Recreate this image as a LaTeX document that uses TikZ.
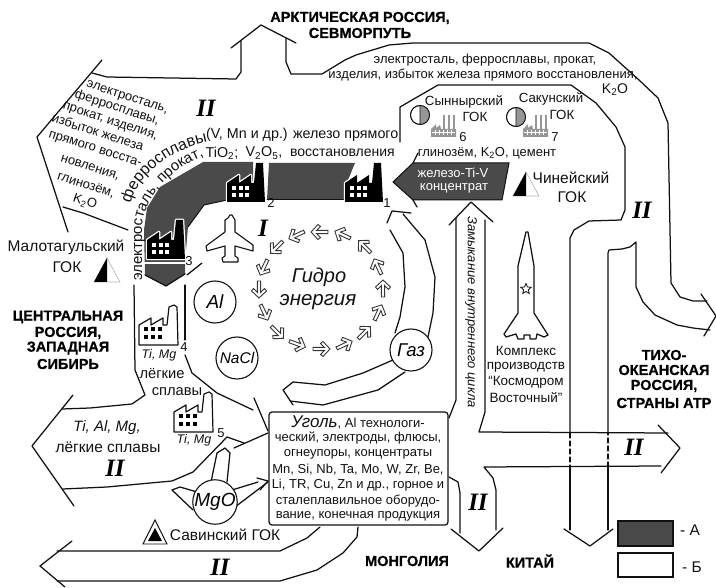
\documentclass[tikz,border=0pt]{standalone}
\usepackage{fontspec}
\setmainfont{Liberation Sans}[BoldFeatures={FakeBold=0.6}]
\newfontfamily\serifnum{Liberation Serif}
\usetikzlibrary{decorations.text,shapes.geometric}
\newcommand{\fsz}[1]{\fontsize{#1}{#1}\selectfont}
\definecolor{darkfill}{HTML}{4A4A4A}
\definecolor{ink}{HTML}{111111}
\definecolor{gfac}{HTML}{969696}
\tikzset{
  x=1pt,y=-1pt,
  edge/.style={draw=ink,line width=1.25pt,line join=round,line cap=round},
  lab/.style={inner sep=0pt,outer sep=0pt,text=ink,font=\fsz{13}},
  labbig/.style={lab,font=\fsz{13.3}},
  labwide/.style={lab,font=\fsz{15.5}},
  labit/.style={lab,font=\fsz{13}\itshape},
  head/.style={inner sep=0pt,text=black,font=\fsz{14.5}\bfseries},
  roman/.style={inner sep=0pt,text=black,font=\fsz{25}\serifnum\bfseries\itshape},
  num/.style={lab,font=\fsz{13}},
  disc/.style={circle,draw=ink,line width=1.1pt,fill=white,minimum size=42pt,inner sep=0pt},
  bfac/.pic={
    \path[fill=black,draw=white,line width=2.5pt,line join=round] (0,39)--(0,20)--(12,12)--(12,20)--(24,12)--(24,20)--(27,20)--(29,0)--(36,0)--(38,39)--cycle;
    \fill[black] (0,39)--(0,20)--(12,12)--(12,20)--(24,12)--(24,20)--(27,20)--(29,0)--(36,0)--(38,39)--cycle;
    \foreach \px in {5,11.5,18}{\foreach \py in {23,30}{\fill[white] (\px,\py) rectangle ++(4,4);}}
  },
  wfac/.pic={
    \path[fill=white,draw=ink,line width=1.2pt,line join=round] (0,40)--(0,20)--(12,13)--(12,20)--(24,13)--(24,20)--(28,20)--(30,2)--(35,0)--(38,2)--(39,40)--cycle;
    \foreach \px in {5,12,19}{\foreach \py in {22,30}{\fill[black] (\px,\py) rectangle ++(3.5,4.5);}}
  },
  gcfac/.pic={
    \fill[gfac] (0,14)--(5,9)--(5,13)--(9,10)--(10,14)--(25,14)--(25,22)--(0,22)--cycle;
    \foreach \px in {12,17,22}{\fill[gfac] (\px,0) rectangle ++(1.6,14);}
    \draw[white,line width=0.7pt] (1,17.5)--(24,17.5);
    \foreach \px in {4,8,12,16,20}{\draw[white,line width=0.7pt] (\px,15)--(\px,20);}
  },
  semi/.pic={
    \path[draw=ink,line width=0.8pt,fill=white] (0,0) circle[radius=9.5];
    \path[fill=gfac] (0,-9.5) arc[start angle=-90,end angle=90,radius=9.5]--cycle;
    \draw[ink,line width=0.8pt] (0,0) circle[radius=9.5] (0,-9.5)--(0,9.5);
  },
  halftri/.pic={
    \path[draw=gray!60,line width=0.6pt,fill=white] (-13,12)--(0,-12)--(13,12)--cycle;
    \fill[black] (-13,12)--(0,-12)--(0,12)--cycle;
  },
  hyd/.pic={
    \path[draw=ink!85,line width=0.9pt,fill=white,line join=miter] (9,0)--(2,7.5)--(-0.5,5.5)--(3.5,1.6)--(-8,1.6)--(-8,-1.6)--(3.5,-1.6)--(-0.5,-5.5)--(2,-7.5)--cycle;
  }
}
\begin{document}
\begin{tikzpicture}
\useasboundingbox (0,0) rectangle (716,588);
% dark bands
\fill[darkfill] (203,162)--(253,162)--(253,200)--(227,200)--(204,205)--(188,227)--(185,262)--(185,274)--(166,286)--(145,275)--(144,230)--(147,208)--(160,187)--cycle;
\fill[darkfill] (269,163)--(355,163)--(348,180)--(345,200)--(267,200)--cycle;
\draw[edge,line width=1pt] (227,200)--(204,205)--(188,227);
\draw[edge,line width=1pt] (267,200)--(345,200);
\draw[edge,white,line width=2pt] (144,263)--(186,263);
\pic at (147,220) {bfac};
\pic at (227,163) {bfac};
\pic at (345,163) {bfac};
\draw[edge] (202,263)--(187,275);
\draw[edge] (145,275)--(166,286)--(185,274);
% concentrate arrow
\path[fill=darkfill,draw=ink,line width=1pt] (509,163)--(413,163)--(393,182)--(413,200)--(502,200)--cycle;
\draw[edge] (418,153)--(413,163);
\draw[edge] (413,200)--(417,207);
% upper-left II arrow
\draw[edge] (102,60)--(37,137)--(68,232);
\draw[edge] (92,73)--(107,77)--(236,79)--(241,72)--(241,41);
\draw[edge] (231,48)--(261,25)--(296,43);
\draw[edge] (286,38)--(286,62)--(291,74)--(322,74)--(345,60)--(356,55)--(389,45)--(413,43)--(589,43)--(609,53)--(639,80)--(658,98)--(668,123)--(671,283)--(680,297)--(693,301)--(707,301);
\draw[edge] (701,294)--(716,316)--(704,336);
\draw[edge] (400,142)--(400,107)--(438,85)--(571,85)--(596,103)--(616,127)--(625,147)--(625,210)--(621,220)--(589,221)--(574,230)--(570,238)--(570,433);
\draw[edge,dashed,dash pattern=on 5pt off 3pt] (570,433)--(570,467);
\draw[edge] (570,467)--(570,530);
\draw[edge] (608,530)--(608,467);
\draw[edge,dashed,dash pattern=on 5pt off 3pt] (608,467)--(608,433);
\draw[edge] (608,433)--(608,253)--(609,250)--(622,249)--(630,247)--(636,242)--(636,287)--(643,302)--(655,315)--(677,325)--(693,328)--(710,330);
\draw[edge] (564,529)--(590,546)--(613,529);
\draw[edge] (63,207)--(83,213)--(128,230);
% II left arrow
\draw[edge] (134,285)--(135,370)--(145,395)--(132,404)--(90,408)--(62,409);
\draw[edge] (73,395)--(32,446)--(74,506);
\draw[edge] (63,489)--(107,487)--(172,481)--(193,472)--(227,437)--(244,443);
\draw[edge] (234,448)--(268,433);
\draw[edge] (185,285)--(185,340);
\draw[edge] (185,355)--(192,373)--(217,393)--(253,410);
\draw[edge] (254,398)--(268,431);
% bottom II arrow
\draw[edge] (320,527)--(307,538)--(280,551)--(57,551);
\draw[edge] (72,541)--(40,566)--(65,587);
\draw[edge] (358,527)--(357,537)--(343,553)--(317,570)--(280,581)--(57,581);
% closing arrow
\draw[edge] (449,225)--(471,202)--(493,222);
\draw[edge] (456,218)--(456,400)--(449,418);
\draw[edge] (485,220)--(485,412)--(479,432)--(668,433);
\draw[edge] (658,425)--(680,448)--(661,473);
\draw[edge] (661,466)--(484,467)--(493,478)--(496,490)--(496,530);
\draw[edge] (451,529)--(479,551)--(503,528);
\draw[edge] (449,477)--(458,482)--(460,493)--(460,533);
% gas arrow
\draw[edge] (387,223)--(392,211)--(411,213);
\draw[edge] (403,214)--(425,240)--(435,277)--(433,313)--(428,337);
\draw[edge] (390,230)--(403,253)--(405,287)--(400,317)--(395,333);
\draw[edge] (393,360)--(363,373)--(325,385)--(293,382);
\draw[edge] (293,382)--(283,390)--(293,405);
\draw[edge] (405,372)--(378,390)--(323,405)--(290,401);
% MgO arrows
\draw[edge] (211,482)--(217,453);
\draw[edge] (227,482)--(230,453);
\draw[edge] (217,453)--(225,448)--(230,453);
\draw[edge] (232,490)--(258,482);
\draw[edge] (235,507)--(268,482);
\draw[edge] (257,478)--(268,481)--(260,490);
\draw[edge] (197,492)--(180,487)--(172,490)--(193,510);
% rocket
\path[edge,fill=white] (526,232)--(518,266)--(518,313)--(504,334)--(506,337)--(516,334)--(518,339)--(524,339)--(524,335)--(530,335)--(530,339)--(536,339)--(537,334)--(544,337)--(548,335)--(534,313)--(534,266)--(528,232)--cycle;
\node[star,star points=5,star point ratio=2.2,draw=ink,line width=0.8pt,minimum size=11pt,inner sep=0pt] (rstar) at (526,289) {};
% plane
\path[edge,line width=1.1pt,fill=white] (228,218)--(230,215)--(232,215)--(235,220)--(235,232)--(253,245)--(253,251)--(235,246)--(235,256)--(238,258)--(238,262)--(223,262)--(222,258)--(225,256)--(225,246)--(207,251)--(206,246)--(225,232)--(225,220)--cycle;
% discs
\node[disc] (al) at (215,302) {\fsz{19}\itshape Al};
\node[disc] (nacl) at (237,358) {\fsz{15.5}\itshape NaCl};
\node[disc] (mgo) at (215,502) {\fsz{19}\itshape MgO};
\node[disc] (gaz) at (411,350) {\fsz{18.5}\itshape Газ};
% hydro arrows
\foreach \cx/\cy/\a in {297/235/205,320/232/180,343/235/155,365/247/135,378/267/115,383/289/90,378/313/65,364/333/45,344/345/25,321/349/0,297/344/-20,277/332/-45,264/312/-65,259/289/-90,264/267/-115,277/247/-135}{
  \pic[rotate=\a] at (\cx,\cy) {hyd};
}
\node[lab,font=\fsz{20}\itshape] (gid1) at (319,277) {Гидро};
\node[lab,font=\fsz{20.5}\itshape] (gid2) at (318,302) {энергия};
% factories
\pic at (139,305) {wfac};
\pic at (174,392) {wfac};
\pic at (431,115) {gcfac};
\pic at (523,115) {gcfac};
\pic at (420,115) {semi};
\pic at (516,117) {semi};
\pic at (107,270) {halftri};
\pic at (526,184) {halftri};
\path[draw=ink,line width=0.9pt,fill=white] (143,544)--(155,520)--(167,544)--cycle;
\fill[black] (148,541)--(155,528)--(162,541)--cycle;
% coal box
\node[draw=ink,line width=1.2pt,rounded corners=3pt,fill=white,minimum width=179pt,minimum height=113pt,inner sep=0pt] (coal) at (358.5,468.5) {};
\node[lab,font=\fsz{13}] (c1) at (358,422) {{\fsz{17}\itshape Уголь}, Al технологи-};
\node[lab] (c2) at (358,438) {ческий, электроды, флюсы,};
\node[lab] (c3) at (358,454) {огнеупоры, концентраты};
\node[lab] (c4) at (358,470) {Mn, Si, Nb, Ta, Mo, W, Zr, Be,};
\node[lab] (c5) at (358,485) {Li, TR, Cu, Zn и др., горное и};
\node[lab] (c6) at (358,501) {сталеплавильное оборудо-};
\node[lab] (c7) at (358,516) {вание, конечная продукция};
% headings
\node[head] (h1) at (360,18) {АРКТИЧЕСКАЯ РОССИЯ,};
\node[head] (h2) at (360,33) {СЕВМОРПУТЬ};
\node[head] (h3) at (68,317) {ЦЕНТРАЛЬНАЯ};
\node[head] (h4) at (68,333) {РОССИЯ,};
\node[head] (h5) at (68,348) {ЗАПАДНАЯ};
\node[head] (h6) at (68,364) {СИБИРЬ};
\node[head] (h7) at (664,355) {ТИХО-};
\node[head] (h8) at (664,370) {ОКЕАНСКАЯ};
\node[head] (h9) at (664,386) {РОССИЯ,};
\node[head] (h10) at (664,403) {СТРАНЫ АТР};
\node[head] (h11) at (407,561) {МОНГОЛИЯ};
\node[head] (h12) at (530,561) {КИТАЙ};
% roman numerals
\node[roman] (r0) at (263,228) {I};
\node[roman] (r1) at (206,108) {II};
\node[roman] (r2) at (642,210) {II};
\node[roman] (r3) at (115,468) {II};
\node[roman] (r4) at (220,567) {II};
\node[roman] (r5) at (478,502) {II};
\node[roman] (r6) at (634,447) {II};
% top text
\node[lab] (t1) at (485,60) {электросталь, ферросплавы, прокат,};
\node[lab] (t2) at (483,75) {изделия, избыток железа прямого восстановления,};
\node[lab,font=\fsz{14}] (t3) at (615,90) {K\textsubscript{2}O};
% left block
\foreach \nm/\cx/\cy/\tx in {la/127/98/{электросталь,},lb/117/108/{ферросплавы,},lc/110/122/{прокат, изделия,},ld/98/132/{избыток железа},le/95/150/{прямого восста-},lf/90/168/{новления,},lg/86/185/{глинозём,},lh/85/202/{K\textsubscript{2}O}}{
  \node[lab,rotate=-18] (\nm) at (\cx,\cy) {\tx};
}
% curved text
\path[decorate,decoration={text along path,text align={left},text={|\fsz{15}\color{ink}|электросталь, прокат,}}] (142,281)--(142,232) .. controls (140,203) and (168,168) .. (207,155);
\path[decorate,decoration={text along path,text align={left},text={|\fsz{16}\color{ink}|ферросплавы}}] (131,204) .. controls (135,180) and (165,152) .. (204,143);
\node[lab,anchor=west,font=\fsz{14.3}] (m1) at (206,135) {(V, Mn и др.) железо прямого};
\node[lab,font=\fsz{14.3}] (m2) at (222,153) {TiO\textsubscript{2};};
\node[lab,font=\fsz{14.3}] (m3) at (264,153) {V\textsubscript{2}O\textsubscript{5},};
\node[lab,anchor=west,font=\fsz{14}] (m4) at (290,153) {восстановления};
% right labels
\node[labbig] (s1) at (464,102) {Сынныpский};
\node[labbig] (s2) at (475,117) {ГОК};
\node[labbig] (s3) at (551,99) {Сакунский};
\node[labbig] (s4) at (562,115) {ГОК};
\node[num] (n6) at (463,137) {6};
\node[num] (n7) at (555,137) {7};
\node[lab] (s5) at (487,153) {глинозём, K\textsubscript{2}O, цемент};
\node[lab,text=white] (cn1) at (453,173) {железо-Ti-V};
\node[lab,text=white] (cn2) at (454,188) {концентрат};
\node[labwide] (ch1) at (571,178) {Чинейский};
\node[labwide] (ch2) at (572,197) {ГОК};
\node[num] (n1) at (387,203) {1};
\node[num] (n2) at (271,203) {2};
\node[num] (n3) at (189,261) {3};
\node[num] (n4) at (184,347) {4};
\node[num] (n5) at (221,433) {5};
\node[labwide] (ma1) at (66,247) {Малотагульский};
\node[labwide] (ma2) at (67,267) {ГОК};
\node[labit,font=\fsz{12.5}\itshape] (ti1) at (159,355) {Ti, Mg};
\node[lab,font=\fsz{14.7}] (lg1) at (162,374) {лёгкие};
\node[lab,font=\fsz{14.7}] (lg2) at (177,392) {сплавы};
\node[labit,font=\fsz{12.5}\itshape] (ti2) at (194,440) {Ti, Mg};
\node[labit,font=\fsz{15}\itshape] (ta1) at (107,428) {Ti, Al, Mg,};
\node[labwide] (ta2) at (108,447) {лёгкие сплавы};
\node[labwide] (sv) at (225,535) {Савинский ГОК};
\node[lab,font=\fsz{13.5}] (k1) at (526,351) {Комплекс};
\node[lab,font=\fsz{13.5}] (k2) at (526,367) {производств};
\node[lab,font=\fsz{13.5}] (k3) at (526,382) {“Космодром};
\node[lab,font=\fsz{13.5}] (k4) at (526,398) {Восточный”};
\node[labit,rotate=-90] (za) at (471,312) {Замыкание внутреннего цикла};
% legend
\node[draw=ink,line width=1.3pt,fill=darkfill,minimum width=55pt,minimum height=25pt,inner sep=0pt] (legA) at (645.5,533.5) {};
\node[draw=ink,line width=1.3pt,fill=white,minimum width=55pt,minimum height=24pt,inner sep=0pt] (legB) at (645.5,565) {};
\node[lab,font=\fsz{15.5}] (la1) at (690,530) {- А};
\node[lab,font=\fsz{15.5}] (la2) at (692,567) {- Б};
\end{tikzpicture}
\end{document}
